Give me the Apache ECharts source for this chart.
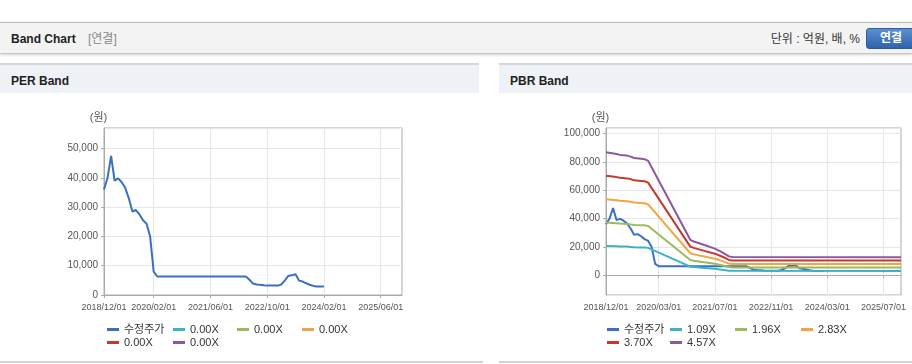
<!DOCTYPE html>
<html lang="ko">
<head>
<meta charset="utf-8">
<title>Band Chart</title>
<script src="https://cdn.jsdelivr.net/npm/echarts@6.0.0/dist/echarts.min.js"></script>
<style>
html,body{margin:0;padding:0;width:912px;height:364px;overflow:hidden;background:#fff;}
body{font-family:"Liberation Sans","Noto Sans CJK KR",sans-serif;position:relative;}
.hdr{position:absolute;left:0;top:22px;width:912px;height:30px;background:#f3f3f3;border-top:1px solid #bcbcbc;border-bottom:1px solid #c4c4c4;box-shadow:0 1px 3px rgba(0,0,0,0.18);}
.hdr .ttl{position:absolute;left:11px;top:8px;font-size:12px;font-weight:bold;color:#222;line-height:16px;}
.hdr .sub{position:absolute;left:88px;top:8px;font-size:12px;color:#888;line-height:16px;}
.hdr .unit{position:absolute;right:52px;top:8px;font-size:12px;color:#333;line-height:16px;}
.hdr .btn{position:absolute;left:866px;top:5px;width:50px;height:21px;border-radius:3px;background:linear-gradient(#5a8fd2,#2f63aa);border:1px solid #2c5c9c;color:#fff;font-size:12px;font-weight:bold;line-height:19px;text-align:center;box-sizing:border-box;}
.pbar{position:absolute;top:63px;height:28px;background:#eef2f7;border-top:2px solid #d6d6d6;}
.pbar span{position:absolute;left:11px;top:8px;font-size:12px;font-weight:bold;color:#222;line-height:16px;}
.pbot{position:absolute;top:361px;height:2px;background:#d3d3d3;}
#chart{position:absolute;left:0;top:0;width:912px;height:364px;z-index:2;}
</style>
</head>
<body>
<div class="hdr"><span class="ttl">Band Chart</span><span class="sub">[연결]</span><span class="unit">단위 : 억원, 배, %</span><div class="btn">연결</div></div>
<div class="pbar" style="left:0;width:479px;"><span>PER Band</span></div>
<div class="pbar" style="left:499px;width:413px;"><span>PBR Band</span></div>
<div class="pbot" style="left:0;width:483px;"></div>
<div class="pbot" style="left:499px;width:413px;"></div>
<div id="chart"></div>
<script>
// ---------- DATA ----------
// monthly categories 2018/12/01 .. 2025/12/01
const months = [];
for (let i = 0; i <= 84; i++) {
  const y = 2018 + Math.floor((11 + i) / 12);
  const m = (11 + i) % 12 + 1;
  months.push(y + '/' + String(m).padStart(2, '0') + '/01');
}
const perTicks = ['2018/12/01','2020/02/01','2021/06/01','2022/10/01','2024/02/01','2025/06/01'];
const pbrTicks = ['2018/12/01','2020/03/01','2021/07/01','2022/11/01','2024/03/01','2025/07/01'];

// 수정주가, monthly from 2018/12 to 2024/02
const price = [
  36000, 40000, 47500, 39000, 39800, 38500, 36500, 33000, 28500, 29000,
  27500, 25500, 24300, 20000, 8000, 6300, 6300, 6300, 6300, 6300,
  6300, 6300, 6300, 6300, 6300, 6300, 6300, 6300, 6300, 6300,
  6300, 6300, 6300, 6300, 6300, 6300, 6300, 6300, 6300, 6300,
  6300, 5200, 3900, 3600, 3500, 3300, 3200, 3200, 3200, 3200,
  3600, 5000, 6600, 6700, 7100, 4900, 4600, 4000, 3500, 3100,
  2900, 2900, 2900
];

const perBandLabels = ['0.00X','0.00X','0.00X','0.00X','0.00X'];
const perBands = [[], [], [], [], []];

const pbrBandLabels = ['1.09X','1.96X','2.83X','3.70X','4.57X'];
const pbrBandMonths = [0, 3, 4, 6, 7, 8, 10, 11, 12, 24, 25, 28, 31, 33, 35, 36, 84];
const pbr109 = [20700,20400,20300,20200,20000,19800,19600,19600,19300,6000,5700,5100,4500,3900,3200,3050,3000];
const pbr196 = [37200,36700,36500,36200,35900,35500,35300,35200,34700,10700,10200,9100,8100,7000,5700,5500,5450];
const pbr283 = [53700,53000,52600,52300,51900,51300,51000,50800,50000,15500,14700,13200,11600,10100,8200,7900,7900];
const pbr370 = [70300,69300,68800,68400,67900,67000,66600,66400,65400,20200,19300,17200,15200,13200,10800,10400,10300];
const pbr457 = [86800,85600,85000,84500,83800,82800,82300,82000,80800,25000,23800,21300,18800,16300,13300,12800,12700];
const pbrBands = [pbr109, pbr196, pbr283, pbr370, pbr457];

// ---------- STYLE ----------
const FONT = "'Liberation Sans','Noto Sans CJK KR',sans-serif";
const priceColor = '#3a6fc4';
const bandColors = ['#3bb2c9', '#9bba59', '#f2a541', '#c4392d', '#8e56a0'];

const chart = echarts.init(document.getElementById('chart'), null, {renderer: 'canvas'});

function xAxisFor(gridIndex, ticks) {
  const show = (i, v) => ticks.indexOf(v) >= 0;
  return {
    type: 'category', gridIndex: gridIndex, data: months, boundaryGap: false,
    axisLine: {show: true, lineStyle: {color: '#aaaaaa', width: 1}},
    axisTick: {show: true, length: 3, interval: show, lineStyle: {color: '#aaaaaa'}},
    axisLabel: {interval: show, color: '#555', fontSize: 9, margin: 8, fontFamily: FONT,
      showMinLabel: true, showMaxLabel: true, hideOverlap: false},
    splitLine: {show: true, interval: show, lineStyle: {color: '#e6e6e6', width: 1}}
  };
}
function yAxisFor(gridIndex, extra, showMin) {
  return Object.assign({
    type: 'value', gridIndex: gridIndex,
    name: '(원)', nameLocation: 'end', nameGap: 5,
    nameTextStyle: {color: '#555', fontSize: 11, fontFamily: FONT, align: 'center', padding: [0, 11, 0, 0]},
    axisLine: {show: true, lineStyle: {color: '#aaaaaa', width: 1}},
    axisTick: {show: true, length: 3, lineStyle: {color: '#aaaaaa'}},
    axisLabel: {color: '#555', fontSize: 10, margin: 6, fontFamily: FONT,
      showMinLabel: showMin, showMaxLabel: false,
      formatter: v => v.toLocaleString('en-US')},
    splitLine: {show: true, lineStyle: {color: '#e6e6e6', width: 1}}
  }, extra);
}

const series = [];
function lineSeries(name, xi, data, color, z) {
  return {
    type: 'line', name: name, xAxisIndex: xi, yAxisIndex: xi, data: data,
    symbol: 'none', showSymbol: false, z: z,
    lineStyle: {width: 2, color: color}, itemStyle: {color: color},
    emphasis: {disabled: true}
  };
}
// PER
series.push(lineSeries('PER:수정주가', 0, price, priceColor, 3));
perBandLabels.forEach((lab, k) => series.push(lineSeries('PER:' + lab + '#' + k, 0, perBands[k], bandColors[k], 4)));
// PBR
series.push(lineSeries('PBR:수정주가', 1, price, priceColor, 2));
pbrBandLabels.forEach((lab, k) => series.push(lineSeries('PBR:' + lab + '#' + k, 1,
  pbrBandMonths.map((m, i) => [m, pbrBands[k][i]]), bandColors[k], 3)));

function legendFor(name, left, top) {
  return {
    left: left, top: top, padding: 0, itemWidth: 12, itemHeight: 3, icon: 'rect',
    selectedMode: false, data: [name],
    formatter: n => n.split(':')[1].split('#')[0],
    textStyle: {fontSize: 11, color: '#333', fontFamily: FONT}
  };
}
const perNames = ['PER:수정주가'].concat(perBandLabels.map((l, k) => 'PER:' + l + '#' + k));
const pbrNames = ['PBR:수정주가'].concat(pbrBandLabels.map((l, k) => 'PBR:' + l + '#' + k));
const perLegendPos = [[107, 324], [173, 324], [237, 324], [302, 324], [107, 337], [173, 337]];
const pbrLegendPos = [[607, 324], [670, 324], [735, 324], [801, 324], [607, 337], [670, 337]];
const legends = [];
perNames.forEach((n, i) => legends.push(legendFor(n, perLegendPos[i][0], perLegendPos[i][1])));
pbrNames.forEach((n, i) => legends.push(legendFor(n, pbrLegendPos[i][0], pbrLegendPos[i][1])));

chart.setOption({
  animation: false,
  backgroundColor: 'transparent',
  textStyle: {fontFamily: FONT},
  grid: [
    {left: 104, top: 128, width: 298, height: 167, show: true, borderColor: '#aaaaaa', borderWidth: 1, containLabel: false},
    {left: 606, top: 128, width: 295, height: 167, show: true, borderColor: '#aaaaaa', borderWidth: 1, containLabel: false}
  ],
  xAxis: [xAxisFor(0, perTicks), xAxisFor(1, pbrTicks)],
  yAxis: [
    yAxisFor(0, {min: 0, max: 57000, interval: 10000}, true),
    yAxisFor(1, {min: -14000, max: 104000, splitNumber: 5}, false)
  ],
  legend: legends,
  series: series
});
</script>
</body>
</html>
